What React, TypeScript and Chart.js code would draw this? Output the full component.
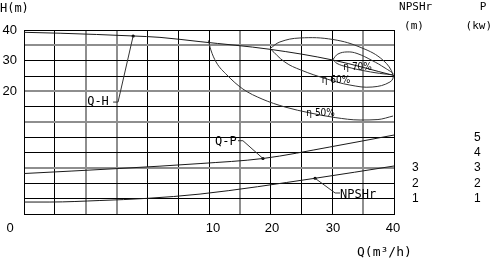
import React, { useEffect, useRef } from "react";
import { Chart, registerables } from "chart.js";

Chart.register(...registerables);

// All values in grid units: the drawing is a 12 x 12 grid.
const QH_X = [0, 1.17, 3.54, 4.41, 5.71, 7.98, 10.02, 12];
const QH_Y = [11.85, 11.79, 11.61, 11.52, 11.24, 10.74, 10.04, 9.03];

const QP_X = [0, 3.11, 5.71, 7.75, 9.92, 12];
const QP_Y = [2.64, 2.97, 3.29, 3.62, 4.37, 5.15];

const NPSH_X = [0, 0.84, 2.46, 3.99, 5.71, 9.44, 12];
const NPSH_Y = [0.78, 0.78, 0.88, 1.02, 1.3, 2.33, 3.13];

const ETA50_X = [5.98, 6.06, 6.23, 6.58, 7.1, 7.72, 8.46, 9.28, 10.09, 10.9, 11.48, 11.97];
const ETA50_Y = [11.32, 10.7, 9.91, 9.07, 8.15, 7.5, 6.98, 6.59, 6.29, 6.13, 6.16, 6.39];

const ETA60_X = [7.98, 8.3, 8.95, 10.02, 10.96, 11.64, 11.97, 11.87, 11.29, 10.57, 9.83, 8.98, 8.46, 7.98];
const ETA60_Y = [10.79, 11.22, 11.48, 11.38, 10.83, 10.04, 9.07, 8.61, 8.28, 8.41, 8.8, 9.39, 9.91, 10.79];

const ETA70_X = [10.02, 10.18, 10.48, 10.8, 11.29, 11.71, 11.97, 11.71, 11.06, 10.48, 10.15, 10.02];
const ETA70_Y = [10.08, 10.43, 10.57, 10.47, 10.01, 9.52, 9.13, 9.13, 9.33, 9.59, 9.82, 10.08];

const MARK_X = [3.54, 7.75, 9.44];
const MARK_Y = [11.61, 3.62, 2.33];

const QH_LEAD_X = [2.89, 3.05, 3.54];
const QH_LEAD_Y = [7.3, 7.3, 11.61];
const QP_LEAD_X = [6.94, 7.1, 7.75];
const QP_LEAD_Y = [4.78, 4.78, 3.62];
const NPSH_LEAD_X = [9.44, 10.09, 10.25];
const NPSH_LEAD_Y = [2.33, 1.37, 1.37];

// Tick labels
const H_TICK_POS = [8, 10, 12];
const H_TICK_LABELS = ["20", "30", "40"];
const NPSH_TICK_POS = [1, 2, 3];
const NPSH_TICK_LABELS = ["1", "2", "3"];
const P_TICK_POS = [1, 2, 3, 4, 5];
const P_TICK_LABELS = ["1", "2", "3", "4", "5"];
const Q_TICK_POS = [-0.45, 6.13, 8.04, 10.02, 11.97];
const Q_TICK_LABELS = ["0", "10", "20", "30", "40"];

const X_GRAY = [2, 3, 7, 11];
const Y_GRAY = [3, 6, 8, 11];

const ARIAL = "'Liberation Sans', Arial, sans-serif";
const MONO = "'DejaVu Sans Mono', monospace";
const NARROW = "'Liberation Sans Narrow', 'DejaVu Sans Condensed', sans-serif";

type Txt = { t: string; x: number; y: number; a: CanvasTextAlign; f: string };

const TEXTS: Txt[] = [
  { t: "H(m)", x: -0.78, y: 13.37, a: "left", f: `12px ${MONO}` },
  { t: "NPSHr", x: 12.7, y: 13.5, a: "center", f: `11px ${MONO}` },
  { t: "(m)", x: 12.65, y: 12.26, a: "center", f: `11px ${MONO}` },
  { t: "P", x: 14.89, y: 13.5, a: "center", f: `11px ${MONO}` },
  { t: "(kw)", x: 14.75, y: 12.26, a: "center", f: `11px ${MONO}` },
  { t: "Q(m³/h)", x: 10.8, y: -2.54, a: "left", f: `13px ${MONO}` },
  { t: "Q-H", x: 2.4, y: 7.3, a: "center", f: `12px ${MONO}` },
  { t: "Q-P", x: 6.55, y: 4.7, a: "center", f: `12px ${MONO}` },
  { t: "NPSHr", x: 10.25, y: 1.24, a: "left", f: `12px ${MONO}` },
  { t: "η 70%", x: 10.82, y: 9.55, a: "center", f: `10px ${NARROW}` },
  { t: "η 60%", x: 10.12, y: 8.71, a: "center", f: `10px ${NARROW}` },
  { t: "η 50%", x: 9.62, y: 6.59, a: "center", f: `10px ${NARROW}` },
];

const zip = (xs: number[], ys: number[]) => xs.map((x, i) => ({ x, y: ys[i] }));

const textPlugin = {
  id: "texts",
  afterDraw(chart: any) {
    const { ctx, scales } = chart;
    const sx = scales.x;
    const sy = scales.y;
    ctx.save();
    ctx.fillStyle = "#000";
    ctx.textBaseline = "middle";
    for (const tx of TEXTS) {
      ctx.font = tx.f;
      ctx.textAlign = tx.a;
      ctx.fillText(tx.t, sx.getPixelForValue(tx.x), sy.getPixelForValue(tx.y));
    }
    ctx.font = `13px ${ARIAL}`;
    ctx.textAlign = "center";
    Q_TICK_LABELS.forEach((l, i) => {
      ctx.fillText(l, sx.getPixelForValue(Q_TICK_POS[i]), sy.getPixelForValue(-0.95));
    });
    ctx.restore();
  },
};

const labelFrom = (pos: number[], labels: string[]) => (v: any) => {
  const i = pos.indexOf(Number(v));
  return i >= 0 ? labels[i] : "";
};

export default function App() {
  const ref = useRef<HTMLCanvasElement>(null);
  useEffect(() => {
    if (!ref.current) return;
    const curve = (data: any, color = "#1a1a1a", mono = true) => ({
      data,
      borderColor: color,
      borderWidth: 1,
      pointRadius: 0,
      fill: false,
      tension: 0.4,
      cubicInterpolationMode: mono ? "monotone" : "default",
    });
    const straight = (data: any) => ({
      data,
      borderColor: "#333",
      borderWidth: 1,
      pointRadius: 0,
      fill: false,
      tension: 0,
    });
    const chart = new Chart(ref.current, {
      type: "line",
      data: {
        datasets: [
          curve(zip(QH_X, QH_Y)),
          curve(zip(QP_X, QP_Y)),
          curve(zip(NPSH_X, NPSH_Y)),
          curve(zip(ETA50_X, ETA50_Y), "#333"),
          curve(zip(ETA60_X, ETA60_Y), "#333", false),
          curve(zip(ETA70_X, ETA70_Y), "#333", false),
          straight(zip(QH_LEAD_X, QH_LEAD_Y)),
          straight(zip(QP_LEAD_X, QP_LEAD_Y)),
          straight(zip(NPSH_LEAD_X, NPSH_LEAD_Y)),
          {
            data: zip(MARK_X, MARK_Y),
            showLine: false,
            pointRadius: 1.6,
            pointBackgroundColor: "#000",
            pointBorderWidth: 0,
          } as any,
        ] as any,
      },
      options: {
        responsive: false,
        animation: false,
        devicePixelRatio: 1,
        layout: { padding: { top: 30, bottom: 48, left: 0, right: 0 } },
        plugins: { legend: { display: false }, tooltip: { enabled: false } },
        scales: {
          x: {
            type: "linear",
            min: 0,
            max: 12,
            ticks: { display: false, stepSize: 1 },
            grid: {
              drawTicks: false,
              color: (c: any) => (X_GRAY.includes(c.tick?.value) ? "#8e8e8e" : "#000"),
              lineWidth: (c: any) => (X_GRAY.includes(c.tick?.value) ? 2 : 1),
            },
            border: { display: true, color: "#000", width: 1 },
          },
          y: {
            type: "linear",
            position: "left",
            min: 0,
            max: 12,
            ticks: {
              stepSize: 1,
              autoSkip: false,
              padding: 7,
              color: "#000",
              font: { family: ARIAL, size: 13 },
              callback: labelFrom(H_TICK_POS, H_TICK_LABELS),
            },
            grid: {
              drawTicks: false,
              color: (c: any) => (Y_GRAY.includes(c.tick?.value) ? "#8e8e8e" : "#000"),
              lineWidth: (c: any) => (Y_GRAY.includes(c.tick?.value) ? 2 : 1),
            },
            border: { display: true, color: "#000", width: 1 },
            afterFit: (s: any) => {
              s.width = 24;
            },
          },
          yN: {
            type: "linear",
            position: "right",
            min: 0,
            max: 12,
            ticks: {
              stepSize: 1,
              autoSkip: false,
              padding: 18,
              color: "#000",
              font: { family: ARIAL, size: 12 },
              callback: labelFrom(NPSH_TICK_POS, NPSH_TICK_LABELS),
            },
            grid: { display: false, drawTicks: false },
            border: { display: false },
            afterFit: (s: any) => {
              s.width = 60;
            },
          },
          yP: {
            type: "linear",
            position: "right",
            min: 0,
            max: 12,
            ticks: {
              stepSize: 1,
              autoSkip: false,
              padding: 20,
              color: "#000",
              font: { family: ARIAL, size: 12 },
              callback: labelFrom(P_TICK_POS, P_TICK_LABELS),
            },
            grid: { display: false, drawTicks: false },
            border: { display: false },
            afterFit: (s: any) => {
              s.width = 36;
            },
          },
        },
      } as any,
      plugins: [textPlugin],
    });
    return () => chart.destroy();
  }, []);
  return (
    <div style={{ position: "fixed", left: 0, top: 0, width: 490, height: 262, background: "#fff" }}>
      <canvas ref={ref} width={490} height={262} style={{ display: "block" }} />
    </div>
  );
}
